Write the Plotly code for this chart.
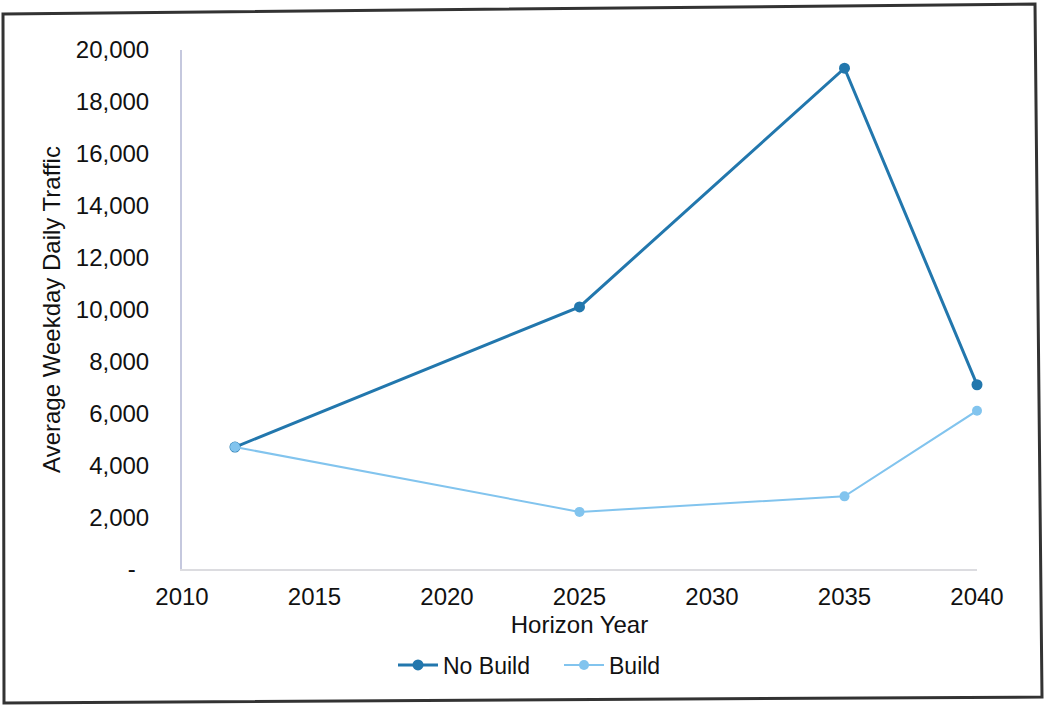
import plotly.graph_objects as go

years = [2012, 2025, 2035, 2040]
no_build = [4700, 10100, 19300, 7100]
build = [4700, 2200, 2800, 6100]

y_ticks = list(range(0, 20001, 2000))
y_labels = ["-\u00a0\u00a0"] + [f"{v:,}" for v in y_ticks[1:]]
x_ticks = [2010, 2015, 2020, 2025, 2030, 2035, 2040]

W, H = 1045, 706
L, R, T, B = 182, 68, 50, 137
pw, ph = W - L - R, H - T - B

def px(x):
    return (x - L) / pw

def py(y):
    return (H - B - y) / ph

fig = go.Figure()
fig.add_trace(go.Scatter(x=years, y=no_build, name="No Build", mode="lines+markers",
                         line=dict(color="#2277ad", width=3),
                         marker=dict(color="#2277ad", size=11), cliponaxis=False))
fig.add_trace(go.Scatter(x=years, y=build, name="Build", mode="lines+markers",
                         line=dict(color="#82c4ee", width=2),
                         marker=dict(color="#82c4ee", size=10), cliponaxis=False))

font = dict(family="Liberation Sans, Arial, sans-serif", color="#111111")

fig.update_layout(
    width=W, height=H,
    margin=dict(l=L, r=R, t=T, b=B),
    paper_bgcolor="white", plot_bgcolor="white",
    font=dict(**font, size=24),
    showlegend=True,
    legend=dict(orientation="h", x=px(393), xanchor="left", y=py(665), yanchor="middle",
                font=dict(**font, size=23), itemwidth=40, entrywidth=111,
                bgcolor="rgba(0,0,0,0)"),
    xaxis=dict(range=[2010, 2040], tickvals=x_ticks, ticktext=[str(v) for v in x_ticks],
               showgrid=False, zeroline=False, showline=True, linecolor="#dcdce0", linewidth=2,
               ticks="", ticklabelstandoff=5, tickfont=dict(**font, size=24),
               title=dict(text="Horizon Year", font=dict(**font, size=24), standoff=7)),
    yaxis=dict(range=[0, 20000], tickvals=y_ticks, ticktext=y_labels,
               showgrid=False, zeroline=False, showline=True, linecolor="#c5c8de", linewidth=2,
               ticks="", ticklabelstandoff=26, tickfont=dict(**font, size=24),
               title=dict(text="Average Weekday Daily Traffic", font=dict(**font, size=24), standoff=8)),
)

fig.add_shape(type="path", xref="paper", yref="paper",
              path=f"M {px(3)} {py(14)} L {px(1035)} {py(4)} L {px(1042)} {py(697)} L {px(4)} {py(703)} Z",
              line=dict(color="#333333", width=3), fillcolor="rgba(0,0,0,0)", layer="above")

fig.write_html("out.html")
